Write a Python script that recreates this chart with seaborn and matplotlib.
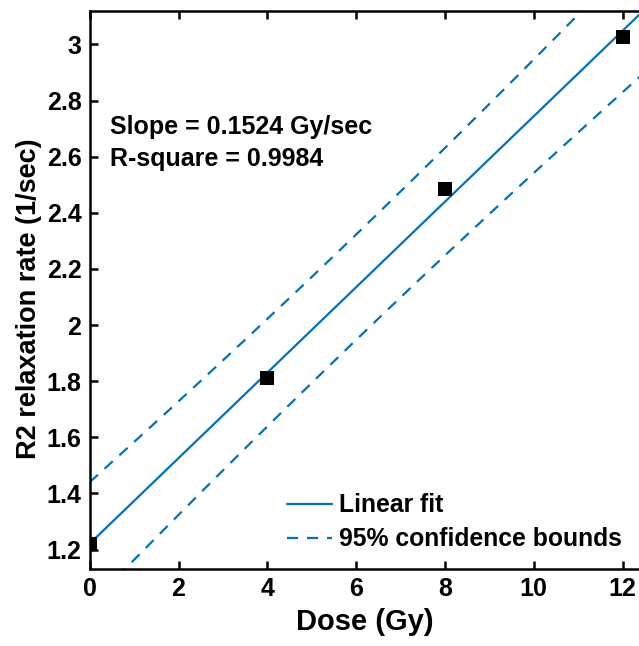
import numpy as np
import pandas as pd
import matplotlib
matplotlib.use("Agg")
import matplotlib.pyplot as plt
import seaborn as sns

# Data
dose = [0, 4, 8, 12]
r2_rate = [1.22, 1.81, 2.485, 3.025]
slope_text = "Slope = 0.1524 Gy/sec"
rsq_text = "R-square = 0.9984"
x_ticks = [0, 2, 4, 6, 8, 10, 12]
y_ticks = [1.2, 1.4, 1.6, 1.8, 2.0, 2.2, 2.4, 2.6, 2.8, 3.0]
y_tick_labels = ["1.2", "1.4", "1.6", "1.8", "2", "2.2", "2.4", "2.6", "2.8", "3"]

sns.set_theme(style="white")
plt.rcParams["font.family"] = ["Liberation Sans", "DejaVu Sans"]
plt.rcParams["font.weight"] = "bold"
plt.rcParams["text.color"] = "black"
plt.rcParams["axes.labelcolor"] = "black"

# Linear fit with 95% prediction bounds
x = np.array(dose, dtype=float)
y = np.array(r2_rate, dtype=float)
n = len(x)
b, a = np.polyfit(x, y, 1)
resid = y - (a + b * x)
s = np.sqrt(np.sum(resid ** 2) / (n - 2))
t_crit = 4.303  # t(0.975, df=2)
sxx = np.sum((x - x.mean()) ** 2)
xg = np.linspace(0, 12.5, 200)
fit = a + b * xg
half = t_crit * s * np.sqrt(1 + 1 / n + (xg - x.mean()) ** 2 / sxx)
df_fit = pd.DataFrame({"x": xg, "fit": fit, "up": fit + half, "lo": fit - half})
df_pts = pd.DataFrame({"dose": dose, "rate": r2_rate})

blue = "#0072BD"
fig = plt.figure(figsize=(6.39, 6.46), dpi=100)
ax = fig.add_axes([0.1404, 0.1192, 0.8596, 0.8638])

sns.lineplot(data=df_fit, x="x", y="fit", ax=ax, color=blue, lw=1.6, label="Linear fit")
sns.lineplot(data=df_fit, x="x", y="up", ax=ax, color=blue, lw=1.6, label="95% confidence bounds")
sns.lineplot(data=df_fit, x="x", y="lo", ax=ax, color=blue, lw=1.6, label="_nolegend_")
ax.lines[1].set_dashes((5, 4))
ax.lines[2].set_dashes((5, 4))
sns.scatterplot(data=df_pts, x="dose", y="rate", ax=ax, marker="s", s=95, color="black",
                edgecolor="black", linewidth=0, zorder=5, legend=False)

ax.set_xlim(0, 12.37)
ax.set_ylim(1.131, 3.119)
ax.set_xticks(x_ticks)
ax.set_xticklabels([str(v) for v in x_ticks])
ax.set_yticks(y_ticks)
ax.set_yticklabels(y_tick_labels)
ax.tick_params(direction="in", length=6, width=1.8, colors="black", labelcolor="black",
               labelsize=18, top=True, bottom=True, left=True, right=False, pad=6)
for lab in ax.get_xticklabels() + ax.get_yticklabels():
    lab.set_fontweight("bold")
for side in ["left", "bottom", "top"]:
    ax.spines[side].set_color("black")
    ax.spines[side].set_linewidth(1.8)
ax.spines["right"].set_visible(False)

ax.set_xlabel("Dose (Gy)", fontsize=21, fontweight="bold", labelpad=5, color="black")
ax.set_ylabel("R2 relaxation rate (1/sec)", fontsize=19.5, fontweight="bold", labelpad=2,
              color="black")
ax.yaxis.set_label_coords(-0.087, 0.485)

ax.text(0.46, 2.705, slope_text, fontsize=18, fontweight="bold", va="center", ha="left",
        color="black")
ax.text(0.46, 2.59, rsq_text, fontsize=18, fontweight="bold", va="center", ha="left",
        color="black")

leg = ax.legend(loc="lower right", bbox_to_anchor=(1.01, -0.008), frameon=False,
                prop={"size": 17.8, "weight": "bold"}, handlelength=1.8, handletextpad=0.3,
                labelspacing=0.4)
for t in leg.get_texts():
    t.set_color("black")

fig.savefig("out.png", dpi=100)
